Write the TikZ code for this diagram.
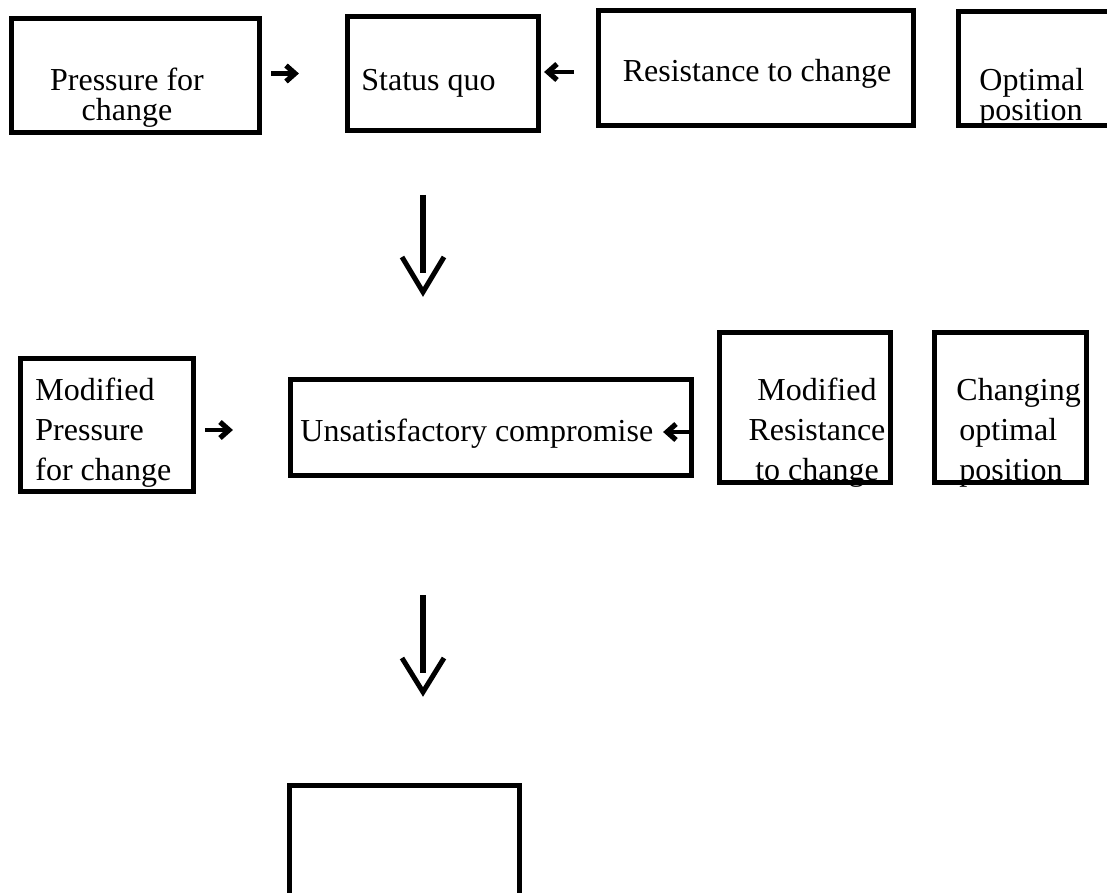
\documentclass[tikz,border=0pt]{standalone}
\usepackage{fontspec}
\setmainfont{Liberation Serif}
\begin{document}
\begin{tikzpicture}[x=0.5pt,y=-0.5pt,
  box/.style={draw=black,line width=2.5pt,fill=none,inner sep=0pt,rectangle},
  txt/.style={inner sep=0pt,font=\fontsize{16pt}{16pt}\selectfont,text=black},
  ashaft/.style={line width=2.3pt},
  ahead/.style={line width=2.6pt,line join=miter},
  vline/.style={line width=2.6pt},
  vhead/.style={line width=2.5pt,line join=miter}]
\useasboundingbox (0,0) rectangle (1107,893);
\clip (0,0) rectangle (1107,893);
% row 1 texts
\node[txt,anchor=base] (t1a) at (127,91) {Pressure for};
\node[txt,anchor=base] (t1b) at (127,120.5) {change};
\node[txt,anchor=base west] (t2) at (361,91) {Status quo};
\node[txt,anchor=base] (t3) at (757,82) {Resistance to change};
\node[txt,anchor=base west] (t4a) at (979,91) {Optimal};
\node[txt,anchor=base west] (t4b) at (979,121) {position};
% row 1 boxes
\node[box,minimum width=124pt,minimum height=57pt] (b1) at (135.5,75.5) {};
\node[box,minimum width=95.5pt,minimum height=57pt] (b2) at (443,73.5) {};
\node[box,minimum width=157.5pt,minimum height=57.5pt] (b3) at (756,68) {};
\node[box,minimum width=79.5pt,minimum height=57pt] (b4) at (1038,68.5) {};
% row 1 arrows
\coordinate (a1s) at (271,73.5); \coordinate (a1e) at (295,73.5);
\draw[ashaft] (a1s) -- ([xshift=-2pt]a1e);
\draw[ahead] ([shift={(-9,-8)}]a1e) -- (a1e) -- ([shift={(-9,8)}]a1e);
\coordinate (a2s) at (574,72); \coordinate (a2e) at (548,72);
\draw[ashaft] (a2s) -- ([xshift=2pt]a2e);
\draw[ahead] ([shift={(9,-8)}]a2e) -- (a2e) -- ([shift={(9,8)}]a2e);
% down arrow 1
\coordinate (d1s) at (423,195); \coordinate (d1m) at (423,273);
\coordinate (d1t) at (423,292);
\draw[vline] (d1s) -- (d1m);
\draw[vhead] (402,257) -- (d1t) -- (444,257);
% row 2 texts
\node[txt,anchor=base west] (t5a) at (35,400) {Modified};
\node[txt,anchor=base west] (t5b) at (35,440) {Pressure};
\node[txt,anchor=base west] (t5c) at (35,480) {for change};
\node[txt,anchor=base west] (t6) at (300,441) {Unsatisfactory compromise};
\node[txt,anchor=base] (t7a) at (817,400) {Modified};
\node[txt,anchor=base] (t7b) at (817,440) {Resistance};
\node[txt,anchor=base] (t7c) at (817,480) {to change};
\node[txt,anchor=base west] (t8a) at (956,400) {Changing};
\node[txt,anchor=base west] (t8b) at (959,440) {optimal};
\node[txt,anchor=base west] (t8c) at (959,480) {position};
% row 2 boxes
\node[box,minimum width=86.5pt,minimum height=66.5pt] (b5) at (107,425) {};
\node[box,minimum width=200.5pt,minimum height=48pt] (b6) at (491,427.5) {};
\node[box,minimum width=85.5pt,minimum height=75pt] (b7) at (805,407.5) {};
\node[box,minimum width=76pt,minimum height=75pt] (b8) at (1010.5,407.5) {};
% row 2 arrows
\coordinate (a3s) at (205,430); \coordinate (a3e) at (229,430);
\draw[ashaft] (a3s) -- ([xshift=-2pt]a3e);
\draw[ahead] ([shift={(-9,-8)}]a3e) -- (a3e) -- ([shift={(-9,8)}]a3e);
\coordinate (a4s) at (692,432); \coordinate (a4e) at (667,432);
\draw[ashaft] (a4s) -- ([xshift=2pt]a4e);
\draw[ahead] ([shift={(9,-8)}]a4e) -- (a4e) -- ([shift={(9,8)}]a4e);
% down arrow 2
\coordinate (d2s) at (423,595); \coordinate (d2m) at (423,673);
\coordinate (d2t) at (423,692);
\draw[vline] (d2s) -- (d2m);
\draw[vhead] (402,658) -- (d2t) -- (444,658);
% bottom box
\node[box,minimum width=115pt,minimum height=82pt] (b9) at (404.5,867.75) {};
\end{tikzpicture}
\end{document}
